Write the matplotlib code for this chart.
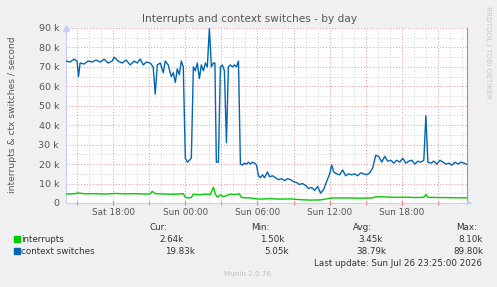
import matplotlib
matplotlib.use("Agg")
import matplotlib.pyplot as plt
import numpy as np

# hours relative to Sun 00:00, values in thousands per second
ctx_hours = [-9.92, -9.58, -9.25, -9.0, -8.88, -8.75, -8.42, -8.08, -7.75, -7.42,
             -7.08, -6.75, -6.42, -6.08, -5.92, -5.58, -5.25, -4.92, -4.58, -4.25,
             -4.0, -3.75, -3.5, -3.25, -2.92, -2.67, -2.5, -2.33, -2.08, -1.83,
             -1.67, -1.42, -1.17, -1.0, -0.83, -0.67, -0.5, -0.33, -0.17, 0.0,
             0.17, 0.33, 0.5, 0.67, 0.83, 1.0, 1.17, 1.33, 1.5, 1.67,
             1.83, 2.0, 2.17, 2.33, 2.46, 2.58, 2.75, 2.92, 3.08, 3.25,
             3.42, 3.58, 3.75, 3.92, 4.08, 4.25, 4.42, 4.58, 4.75, 4.92,
             5.08, 5.25, 5.42, 5.58, 5.75, 5.92, 6.08, 6.25, 6.42, 6.58,
             6.83, 7.0, 7.25, 7.5, 7.75, 8.0, 8.25, 8.5, 8.75, 9.0,
             9.25, 9.5, 9.75, 10.0, 10.25, 10.5, 10.75, 11.0, 11.25, 11.5,
             11.75, 12.0, 12.17, 12.33, 12.58, 12.83, 13.08, 13.33, 13.58, 13.83,
             14.08, 14.33, 14.58, 14.83, 15.08, 15.33, 15.58, 15.83, 16.08, 16.33,
             16.58, 16.83, 17.08, 17.33, 17.58, 17.83, 18.08, 18.33, 18.58, 18.83,
             19.08, 19.33, 19.58, 19.83, 20.0, 20.17, 20.42, 20.67, 20.92, 21.17,
             21.42, 21.67, 21.92, 22.17, 22.42, 22.67, 22.92, 23.17, 23.42]
ctx_k = [73, 72.5, 74, 73, 65, 72, 71.5, 73, 72.5, 73.5,
         72.5, 74, 72, 73, 75, 73, 72, 73.5, 71, 73,
         72, 74, 71, 72.5, 72, 70, 56, 71, 72, 67,
         73, 71, 65, 67, 62, 69, 66, 73, 70, 23,
         21, 22, 23, 70, 68, 72, 64, 71, 68, 72,
         70, 89.8, 70, 72, 72, 21, 21, 70, 71, 68,
         31, 70, 71, 70, 71, 70, 73, 20, 19.5, 20.5,
         20, 21, 20, 21, 20.5, 19.5, 14, 13, 14.5, 13,
         16, 13.5, 14, 13, 12, 12.5, 11.5, 12.5, 12, 11,
         10.5, 9.5, 10, 9, 7.5, 8, 6.5, 8.5, 5.05, 7,
         11, 15, 19.5, 16, 15, 14.5, 17, 14, 15, 14.5,
         15, 14, 15.5, 15, 14.5, 15.5, 18, 24.5, 24, 21,
         24, 21.5, 22, 20.5, 22, 21, 23, 20.5, 21.5, 22,
         20, 21.5, 21, 22, 45, 21, 20.5, 21.5, 20, 22,
         21, 20, 20.5, 19.5, 21, 20, 21, 20.5, 19.83]

irq_hours = [-9.92, -9.17, -8.92, -8.33, -7.5, -6.67, -5.83, -5.0, -4.17, -3.33,
             -2.92, -2.75, -2.5, -1.67, -0.83, -0.17, 0.0, 0.25, 0.5, 0.67,
             1.25, 1.67, 2.08, 2.33, 2.5, 2.67, 2.92, 3.17, 3.42, 3.75,
             4.17, 4.5, 4.67, 5.42, 6.08, 7.08, 7.92, 8.75, 9.58, 10.42,
             11.25, 11.83, 12.25, 13.33, 14.58, 15.58, 15.83, 16.67, 17.5, 18.33,
             19.17, 19.83, 20.0, 20.17, 21.25, 22.5, 23.42]
irq_k = [4.6, 4.8, 5.2, 4.7, 4.8, 4.6, 4.9, 4.7, 4.8, 4.6,
         4.7, 6.0, 4.8, 4.6, 4.5, 4.8, 3.0, 2.6, 2.8, 4.5,
         4.2, 4.6, 4.4, 8.1, 4.5, 3.0, 4.2, 3.3, 3.8, 4.6,
         4.3, 4.7, 2.8, 2.6, 2.0, 2.2, 2.0, 2.1, 1.7, 1.5,
         1.6, 2.2, 2.6, 2.6, 2.5, 2.6, 3.2, 3.1, 2.9, 3.0,
         2.8, 2.9, 4.4, 2.9, 2.8, 2.7, 2.64]

tick_hours = [-6, 0, 6, 12, 18]
tick_labels = ["Sat 18:00", "Sun 00:00", "Sun 06:00", "Sun 12:00", "Sun 18:00"]
y_ticks_k = [0, 10, 20, 30, 40, 50, 60, 70, 80, 90]
y_labels = ["0"] + ["%d k" % v for v in y_ticks_k[1:]]

series_names = ["interrupts", "context switches"]
cur_vals = ["2.64k", "19.83k"]
min_vals = ["1.50k", "5.05k"]
avg_vals = ["3.45k", "38.79k"]
max_vals = ["8.10k", "89.80k"]

W, H = 497, 287
fig = plt.figure(figsize=(W / 100, H / 100), dpi=100)
fig.patch.set_facecolor("#F0F0F0")
L, R, T, B = 66, 467, 28, 203
ax = fig.add_axes([L / W, 1 - B / H, (R - L) / W, (B - T) / H])
ax.set_facecolor("white")
x0, x1 = -9.92, 23.42
ax.set_xlim(x0, x1)
ax.set_ylim(0, 90000)

# grid: minor grey, major red
for h in range(-9, 24):
    c = "#F09090" if h % 3 == 0 else "#CFCFCF"
    ax.axvline(h, color=c, lw=0.7, ls=(0, (1, 2)), zorder=1)
for v in range(5000, 90001, 5000):
    c = "#F09090" if v % 10000 == 0 else "#CFCFCF"
    ax.axhline(v, color=c, lw=0.7, ls=(0, (1, 2)), zorder=1)

green = "#00CC00"
blue = "#0066B3"
ax.plot(irq_hours, np.array(irq_k) * 1000, color=green, lw=1.0, zorder=3)
ax.plot(ctx_hours, np.array(ctx_k) * 1000, color=blue, lw=1.0, zorder=4)

ax.spines["top"].set_visible(False)
ax.spines["left"].set_color("#C8D0F8")
ax.spines["bottom"].set_color("#C8D0F8")
ax.spines["right"].set_color("#999999")
for s in ax.spines.values():
    s.set_linewidth(0.8)

ax.set_xticks(tick_hours)
ax.set_xticklabels(tick_labels)
ax.set_xticks(list(range(-9, 24, 3)), minor=True)
ax.tick_params(axis="x", which="both", length=2.5, color="#E05050", direction="inout",
               labelsize=6.4, labelcolor="#555555", pad=2.5)
ax.tick_params(axis="x", which="minor", labelbottom=False)
ax.set_yticks([v * 1000 for v in y_ticks_k])
ax.set_yticklabels(y_labels)
ax.tick_params(axis="y", length=0, labelsize=6.8, labelcolor="#555555", pad=5)

# axis arrows
ax.plot([x0], [90000], marker="^", ms=4.5, color="#C8D0F8", clip_on=False, zorder=5)
ax.annotate("", xy=(1.02, 0), xycoords="axes fraction", xytext=(1.0, 0),
            arrowprops=dict(arrowstyle="-|>", color="#C8D0F8", lw=0.8, mutation_scale=6))

def fx(x):
    return x / W

def fy(y):
    return 1 - y / H

fig.text(fx(250), fy(19), "Interrupts and context switches - by day", ha="center",
         va="center", fontsize=7.6, color="#555555")
fig.text(fx(13), fy(115), "interrupts & ctx switches / second", rotation=90,
         ha="center", va="center", fontsize=6.6, color="#555555")
fig.text(fx(488), fy(52), "RRDTOOL / TOBI OETIKER", rotation=270, ha="center",
         va="center", fontsize=5.2, color="#C8C8C8")

fs = 6.3
tc = "#333333"
fig.text(fx(167), fy(227), "Cur:", ha="right", va="center", fontsize=fs, color=tc)
fig.text(fx(269), fy(227), "Min:", ha="right", va="center", fontsize=fs, color=tc)
fig.text(fx(372), fy(227), "Avg:", ha="right", va="center", fontsize=fs, color=tc)
fig.text(fx(477), fy(227), "Max:", ha="right", va="center", fontsize=fs, color=tc)

rows = [239, 251]
colors = [green, blue]
cur_x = [184, 195]
min_x = [284, 289]
avg_x = [383, 386]
for i in range(2):
    y = rows[i]
    fig.patches.append(plt.Rectangle((fx(14), fy(y + 3)), 6 / W, 6 / H,
                                     transform=fig.transFigure, color=colors[i]))
    fig.text(fx(21), fy(y), series_names[i], ha="left", va="center", fontsize=fs, color=tc)
    fig.text(fx(cur_x[i]), fy(y), cur_vals[i], ha="right", va="center", fontsize=fs, color=tc)
    fig.text(fx(min_x[i]), fy(y), min_vals[i], ha="right", va="center", fontsize=fs, color=tc)
    fig.text(fx(avg_x[i]), fy(y), avg_vals[i], ha="right", va="center", fontsize=fs, color=tc)
    fig.text(fx(483), fy(y), max_vals[i], ha="right", va="center", fontsize=fs, color=tc)

fig.text(fx(482), fy(263), "Last update: Sun Jul 26 23:25:00 2026", ha="right",
         va="center", fontsize=fs, color=tc)
fig.text(fx(248), fy(274), "Munin 2.0.76", ha="center", va="center", fontsize=5.2,
         color="#C0C0C0")

fig.savefig("out.png", dpi=100, facecolor=fig.get_facecolor())
